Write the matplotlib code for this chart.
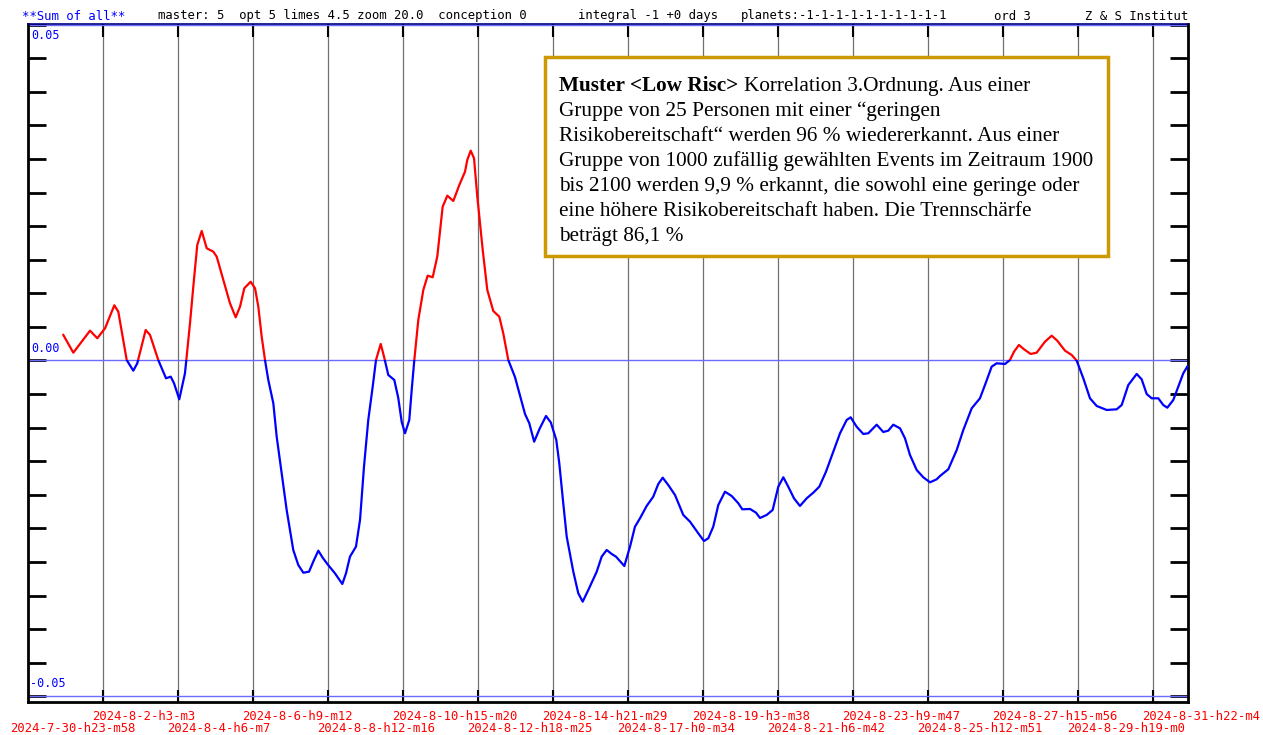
import numpy as np
import matplotlib.pyplot as plt
from matplotlib.patches import Rectangle

W, H = 1263, 735

# x: grid steps from 2024-7-30 23:58 (one step = 51 h 5 min), y: sum of all (x 1/1000)
step = [0.471, 0.604, 0.827, 0.924, 1.027, 1.151, 1.204, 1.316, 1.404, 1.457,
        1.569, 1.627, 1.737, 1.840, 1.903, 1.947, 2.017, 2.093, 2.160, 2.204,
        2.257, 2.316, 2.383, 2.471, 2.516, 2.604, 2.693, 2.769, 2.827, 2.884,
        2.969, 3.027, 3.071, 3.116, 3.160, 3.204, 3.271, 3.316, 3.383, 3.449,
        3.537, 3.604, 3.671, 3.747, 3.813, 3.871, 3.929, 3.991, 4.093, 4.191,
        4.240, 4.293, 4.373, 4.427, 4.480, 4.537, 4.596, 4.640, 4.703, 4.747,
        4.804, 4.884, 4.937, 4.983, 5.027, 5.084, 5.116, 5.151, 5.204, 5.271,
        5.329, 5.396, 5.457, 5.529, 5.591, 5.671, 5.751, 5.827, 5.857, 5.903,
        5.947, 5.991, 6.063, 6.124, 6.204, 6.284, 6.337, 6.404, 6.493, 6.564,
        6.627, 6.684, 6.749, 6.820, 6.907, 6.971, 7.044, 7.084, 7.137, 7.183,
        7.271, 7.337, 7.396, 7.471, 7.583, 7.649, 7.716, 7.783, 7.840, 7.951,
        8.027, 8.093, 8.160, 8.249, 8.337, 8.404, 8.463, 8.537, 8.627, 8.737,
        8.827, 8.937, 9.013, 9.071, 9.137, 9.204, 9.293, 9.383, 9.471, 9.524,
        9.627, 9.707, 9.760, 9.849, 9.929, 10.004, 10.071, 10.137, 10.213, 10.293,
        10.383, 10.471, 10.551, 10.640, 10.737, 10.827, 10.916, 10.969, 11.049, 11.137,
        11.204, 11.316, 11.404, 11.471, 11.537, 11.627, 11.693, 11.760, 11.849, 11.937,
        12.027, 12.116, 12.160, 12.271, 12.383, 12.471, 12.583, 12.693, 12.760, 12.849,
        12.916, 13.027, 13.093, 13.147, 13.213, 13.280, 13.369, 13.449, 13.560, 13.649,
        13.724, 13.827, 13.916, 13.983, 14.071, 14.160, 14.249, 14.383, 14.516, 14.583,
        14.671, 14.783, 14.849, 14.916, 14.983, 15.071, 15.137, 15.191, 15.271, 15.337,
        15.404, 15.457]
sum_all = np.array([
    3.80, 1.16, 4.44, 3.31, 4.79, 8.22, 7.27, 0.07, -1.52, -0.42,
    4.54, 3.80, 0.07, -2.65, -2.41, -3.39, -5.78, -1.91, 5.54, 10.99,
    17.20, 19.28, 16.71, 16.20, 15.46, 11.99, 8.52, 6.43, 8.01, 10.75,
    11.73, 10.75, 8.01, 3.54, 0.07, -2.90, -6.37, -11.35, -16.80, -22.26,
    -28.22, -30.45, -31.60, -31.45, -29.71, -28.32, -29.36, -30.30, -31.69, -33.28,
    -31.69, -29.21, -27.72, -23.75, -15.81, -8.86, -3.90, 0.07, 2.46, 0.57,
    -2.16, -2.90, -5.58, -9.16, -10.84, -8.86, -4.39, 0.07, 6.03, 10.50,
    12.63, 12.39, 15.46, 22.90, 24.54, 23.75, 26.13, 28.11, 29.85, 31.24,
    30.11, 24.39, 16.45, 10.50, 7.37, 6.52, 4.05, 0.07, -2.46, -5.39,
    -7.97, -9.35, -12.09, -10.20, -8.26, -9.23, -11.84, -15.31, -21.26, -26.24,
    -31.45, -34.66, -35.91, -34.17, -31.45, -29.21, -28.22, -28.81, -29.21, -30.60,
    -27.72, -24.75, -23.50, -21.66, -20.28, -18.39, -17.45, -18.54, -20.03, -23.00,
    -24.00, -25.73, -26.88, -26.47, -24.75, -21.52, -19.54, -20.18, -21.26, -22.16,
    -22.11, -22.66, -23.45, -23.00, -22.26, -18.79, -17.39, -18.79, -20.52, -21.66,
    -20.52, -19.68, -18.79, -16.56, -13.58, -10.84, -8.86, -8.46, -9.86, -10.94,
    -10.84, -9.56, -10.65, -10.45, -9.56, -10.10, -11.58, -14.07, -16.30, -17.39,
    -18.14, -17.69, -17.20, -16.20, -13.33, -10.35, -7.12, -5.63, -3.65, -0.92,
    -0.42, -0.52, 0.07, 1.31, 2.31, 1.67, 0.97, 1.16, 2.80, 3.69,
    2.95, 1.46, 0.82, -0.03, -2.65, -5.63, -6.77, -7.37, -7.27, -6.63,
    -3.65, -2.01, -2.80, -4.99, -5.63, -5.63, -6.63, -7.03, -5.88, -3.90,
    -1.91, -0.92]) / 1000

date_labels = ['2024-7-30-h23-m58', '2024-8-2-h3-m3', '2024-8-4-h6-m7', '2024-8-6-h9-m12',
               '2024-8-8-h12-m16', '2024-8-10-h15-m20', '2024-8-12-h18-m25', '2024-8-14-h21-m29',
               '2024-8-17-h0-m34', '2024-8-19-h3-m38', '2024-8-21-h6-m42', '2024-8-23-h9-m47',
               '2024-8-25-h12-m51', '2024-8-27-h15-m56', '2024-8-29-h19-m0', '2024-8-31-h22-m4']

note_lines = ['Gruppe von 25 Personen mit einer \u201cgeringen',
              'Risikobereitschaft\u201c werden 96 % wiedererkannt. Aus einer',
              'Gruppe von 1000 zuf\u00e4llig gew\u00e4hlten Events im Zeitraum 1900',
              'bis 2100 werden 9,9 % erkannt, die sowohl eine geringe oder',
              'eine h\u00f6here Risikobereitschaft haben. Die Trennsch\u00e4rfe',
              'betr\u00e4gt 86,1 %']

mono = 'DejaVu Sans Mono'
serif = 'Liberation Serif'
blue = '#0000ff'


def fx(px):
    return px / W


def fy(py):
    return 1 - py / H


fig = plt.figure(figsize=(W / 100, H / 100), dpi=100)
ax = fig.add_axes([fx(28), fy(702), 1160 / W, 678 / H])
ax.set_xlim(0, 15.467)
ax.set_ylim(-0.05085, 0.0501)

# grid and reference lines
for k in range(1, 16):
    ax.axvline(k, color='#707070', lw=0.9, zorder=1)
for yv in (-0.05, 0, 0.05):
    ax.axhline(yv, color='#6b6bff', lw=1.0, zorder=2)

# curve: red above zero, blue below
up, = ax.plot(step, sum_all, color='#ff0000', lw=1.6, zorder=3)
up.set_clip_path(Rectangle((0, 0), 16, 1, transform=ax.transData))
dn, = ax.plot(step, sum_all, color=blue, lw=1.6, zorder=3)
dn.set_clip_path(Rectangle((0, -1), 16, 1, transform=ax.transData))

ax.set_yticks(np.arange(-0.05, 0.0501, 0.005))
ax.set_yticklabels([])
ax.set_xticks(range(1, 16))
ax.set_xticklabels([])
ax.tick_params(axis='y', direction='in', length=13, width=2, left=True, right=True, colors='black')
ax.tick_params(axis='x', direction='in', length=9, width=1.5, top=True, bottom=True)
for s in ax.spines.values():
    s.set_linewidth(2)
    s.set_color('black')
ax.spines['top'].set_color('#000080')
ax.spines['top'].set_linewidth(1.2)

# y values written inside the frame
ax.text(0.003, 0.0494, '0.05', color=blue, fontfamily=mono, fontsize=8.5, va='top',
        transform=ax.get_yaxis_transform())
ax.text(0.003, 0.0008, '0.00', color=blue, fontfamily=mono, fontsize=8.5, va='bottom',
        transform=ax.get_yaxis_transform())
ax.text(0.002, -0.0491, '-0.05', color=blue, fontfamily=mono, fontsize=8.5, va='bottom',
        transform=ax.get_yaxis_transform())

# date labels in two rows
for k, lab in enumerate(date_labels):
    if k % 2:
        yrow = fy(716)
    else:
        yrow = fy(729)
    xoff = 18 if k == 0 else 11
    fig.text(fx(28 + 75 * k - xoff), yrow, lab, color='#ff0000', fontfamily=mono,
             fontsize=8.8, va='center', ha='left')

# header
hy = fy(16)
fig.text(fx(22), hy, '**Sum of all**', color=blue, fontfamily=mono, fontsize=8.8, va='center')
fig.text(fx(158), hy, 'master: 5  opt 5 limes 4.5 zoom 20.0  conception 0', fontfamily=mono,
         fontsize=8.8, va='center')
fig.text(fx(578), hy, 'integral -1 +0 days', fontfamily=mono, fontsize=8.8, va='center')
fig.text(fx(741), hy, 'planets:-1-1-1-1-1-1-1-1-1-1', fontfamily=mono, fontsize=8.8, va='center')
fig.text(fx(994), hy, 'ord 3', fontfamily=mono, fontsize=8.8, va='center')
fig.text(fx(1188), hy, 'Z & S Institut', fontfamily=mono, fontsize=8.8, va='center', ha='right')

# note box (drawn inside the axes so the texts can sit on top of it)
box = Rectangle((fx(545), fy(256)), fx(1108) - fx(545), fy(57) - fy(256), transform=fig.transFigure,
                facecolor='white', edgecolor='#cc9900', lw=2.5, zorder=5, clip_on=False)
ax.add_patch(box)
t1 = ax.text(fx(559), fy(91), 'Muster <Low Risc>', fontfamily=serif, fontsize=15.3,
             fontweight='bold', va='baseline', zorder=6, transform=fig.transFigure)
ax.annotate('Korrelation 3.Ordnung. Aus einer', xy=(1, 0), xycoords=t1, xytext=(4, 0),
            textcoords='offset points', fontfamily=serif, fontsize=15.3, va='bottom', zorder=6,
            annotation_clip=False)
for i, line in enumerate(note_lines):
    ax.text(fx(559), fy(91 + 25 * (i + 1)), line, fontfamily=serif, fontsize=15.3,
            va='baseline', zorder=6, transform=fig.transFigure)

fig.savefig('out.png', dpi=100)
